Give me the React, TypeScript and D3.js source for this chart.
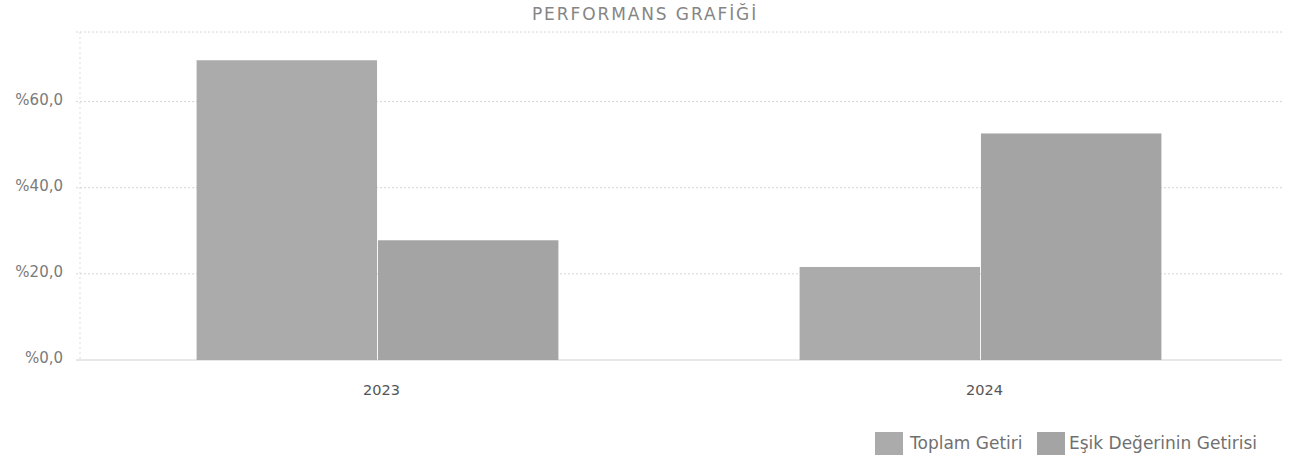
import React from "react";
import * as d3 from "d3";

const categories = ["2023", "2024"];
const seriesNames = ["Toplam Getiri", "Eşik Değerinin Getirisi"];
const toplamGetiri = [69.6, 21.6];
const esikGetirisi = [27.8, 52.6];
const yTicks = [0, 20, 40, 60];
const title = "PERFORMANS GRAFİĞİ";

const W = 1295;
const H = 461;
const colors = ["#ababab", "#a4a4a4"];

export default function App() {
  const left = 76;
  const right = 1282;
  const x = d3.scaleBand<string>().domain(categories).range([left, right]).paddingInner(0.4).paddingOuter(0.2);
  const x1 = d3.scaleBand<string>().domain(seriesNames).range([0, x.bandwidth()]).paddingInner(0.005);
  const y = d3.scaleLinear().domain([0, 75]).range([360, 37]);
  const series = [toplamGetiri, esikGetirisi];
  const fmt = (v: number) => "%" + v.toFixed(1).replace(".", ",");
  const font = "'DejaVu Sans', Verdana, sans-serif";

  return (
    <svg width={W} height={H} style={{ position: "absolute", left: 0, top: 0, background: "#fff" }}>
      <text x={645} y={20} textAnchor="middle" fontFamily={font} fontSize={17} letterSpacing={1.9} fill="#858585">
        {title}
      </text>
      {/* top border */}
      <line x1={left} x2={right} y1={32} y2={32} stroke="#d6d6d6" strokeDasharray="2,2" />
      <line x1={left + 4} x2={left + 4} y1={32} y2={y(0)} stroke="#dddddd" strokeDasharray="2,3" />
      {yTicks.map((t) => (
        <g key={t}>
          <line x1={left} x2={right} y1={y(t)} y2={y(t)} stroke={t === 0 ? "#d0d0d0" : "#d4d4d4"} strokeDasharray={t === 0 ? undefined : "2,2"} />
          <text x={63} y={y(t) + 3} textAnchor="end" fontFamily={font} fontSize={15} fill="#7a7a7a">
            {fmt(t)}
          </text>
        </g>
      ))}
      {categories.map((c, i) => (
        <g key={c} transform={`translate(${x(c)},0)`}>
          {seriesNames.map((s, j) => (
            <rect key={s} x={x1(s)} y={y(series[j][i])} width={x1.bandwidth()} height={y(0) - y(series[j][i])} fill={colors[j]} />
          ))}
          <text x={x.bandwidth() / 2 + 4} y={395} textAnchor="middle" fontFamily={font} fontSize={14.5} fill="#555">
            {c}
          </text>
        </g>
      ))}
      {/* legend */}
      <g>
        <rect x={875} y={432} width={28} height={23} fill={colors[0]} />
        <text x={910} y={449} fontFamily={font} fontSize={17} fill="#707070">{seriesNames[0]}</text>
        <rect x={1037} y={432} width={28} height={23} fill={colors[1]} />
        <text x={1069} y={449} fontFamily={font} fontSize={17} fill="#707070">{seriesNames[1]}</text>
      </g>
    </svg>
  );
}
